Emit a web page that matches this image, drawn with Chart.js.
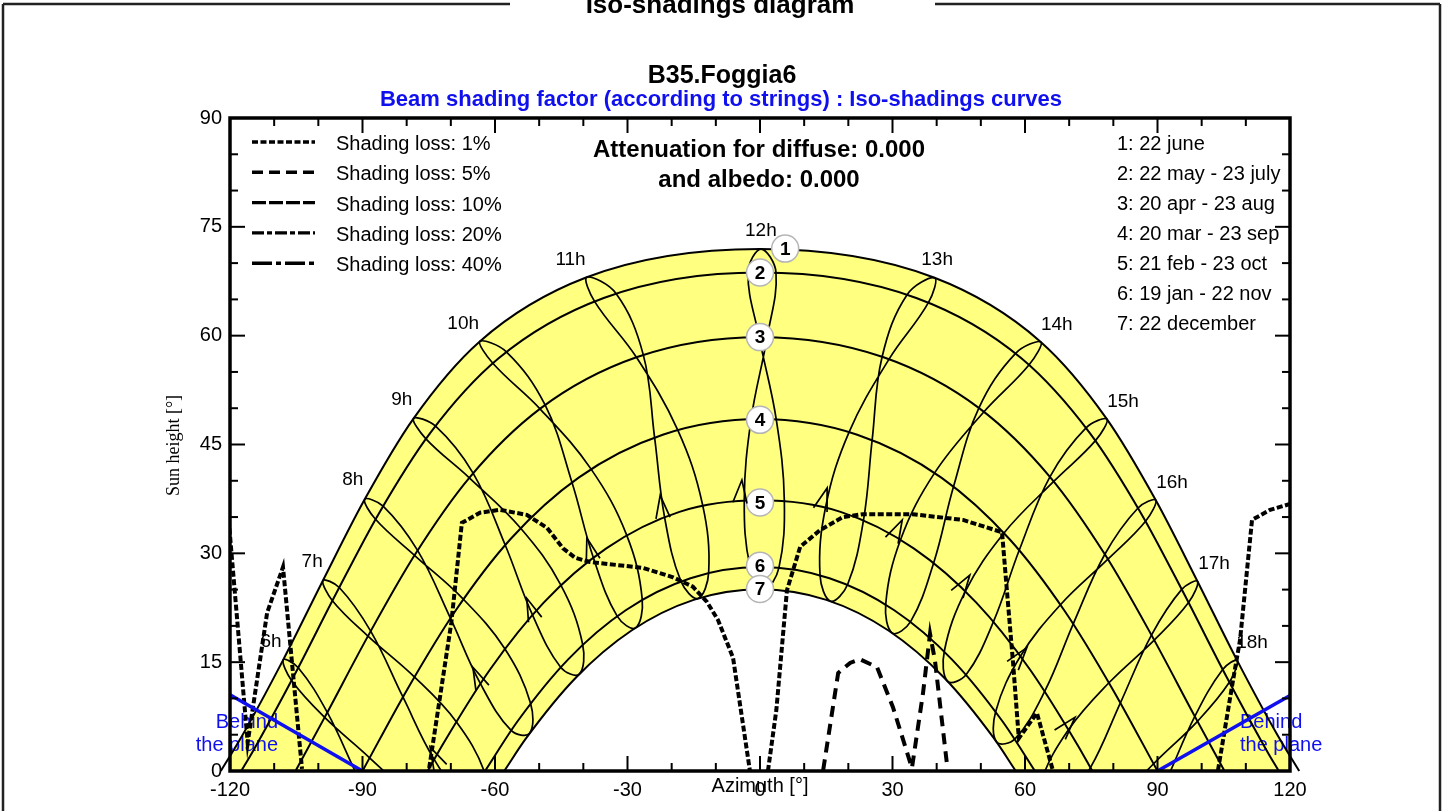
<!DOCTYPE html>
<html>
<head>
<meta charset="utf-8">
<script src="https://cdn.jsdelivr.net/npm/chart.js@4.4.0/dist/chart.umd.min.js"></script>
<style>html,body{margin:0;padding:0;background:#fff;}canvas{display:block;}</style>
</head>
<body>
<canvas id="c" width="1448" height="811"></canvas>
<script>
// ---------------- DATA ----------------
const xTickLabels = [-120, -90, -60, -30, 0, 30, 60, 90, 120];
const yTickLabels = [0, 15, 30, 45, 60, 75, 90];

const dateNames = ['1: 22 june', '2: 22 may - 23 july', '3: 20 apr - 23 aug', '4: 20 mar - 23 sep',
  '5: 21 feb - 23 oct', '6: 19 jan - 22 nov', '7: 22 december'];
const lossNames = ['Shading loss: 1%', 'Shading loss: 5%', 'Shading loss: 10%', 'Shading loss: 20%', 'Shading loss: 40%'];

// sun paths (azimuth, height)
const path1Az = [-122.08, -117.19, -107.99, -99.01, -89.56, -78.50, -63.51, -39.38, 0, 39.38, 63.51, 78.50, 89.56, 99.01, 107.99, 117.19, 122.08];
const path1H  = [0, 4.92, 15.28, 26.19, 37.38, 48.54, 59.17, 68.01, 71.94, 68.01, 59.17, 48.54, 37.38, 26.19, 15.28, 4.92, 0];
const path2Az = [-117.46, -114.84, -105.41, -96.15, -86.32, -74.73, -59.18, -35.38, 0, 35.38, 59.18, 74.73, 86.32, 96.15, 105.41, 114.84, 117.46];
const path2H  = [0, 2.69, 13.23, 24.25, 35.47, 46.54, 56.88, 65.19, 68.70, 65.19, 56.88, 46.54, 35.47, 24.25, 13.23, 2.69, 0];
const path3Az = [-105.17, -98.51, -88.70, -78.15, -65.73, -49.69, -27.82, 0, 27.82, 49.69, 65.73, 78.15, 88.70, 98.51, 105.17];
const path3H  = [0, 7.46, 18.66, 29.80, 40.48, 49.98, 57.06, 59.79, 57.06, 49.98, 40.48, 29.80, 18.66, 7.46, 0];
const path4Az = [-90, -79.93, -69.06, -56.47, -41.06, -22.02, 0, 22.02, 41.06, 56.47, 69.06, 79.93, 90];
const path4H  = [0, 11.18, 21.99, 31.98, 40.44, 46.34, 48.50, 46.34, 40.44, 31.98, 21.99, 11.18, 0];
const path5Az = [-75.24, -71.83, -61.16, -49.03, -34.80, -18.24, 0, 18.24, 34.80, 49.03, 61.16, 71.83, 75.24];
const path5H  = [0, 3.66, 13.96, 23.17, 30.68, 35.71, 37.30, 35.71, 30.68, 23.17, 13.96, 3.66, 0];
const path6Az = [-62.26, -54.85, -43.43, -30.40, -15.74, 0, 15.74, 30.40, 43.43, 54.85, 62.26];
const path6H  = [0, 6.89, 15.39, 22.15, 26.56, 28.10, 26.56, 22.15, 15.39, 6.89, 0];
const path7Az = [-57.92, -52.86, -41.71, -29.09, -15.02, 0, 15.02, 29.09, 41.71, 52.86, 57.92];
const path7H  = [0, 4.59, 12.85, 19.36, 23.59, 25.06, 23.59, 19.36, 12.85, 4.59, 0];

// hour loops (analemmas), order: dec, jan, feb, mar, apr, may, jun, jul, aug, sep, oct, nov
const loop06 = [[-71.41,-14.57],[-75.73,-14.87],[-83.59,-9.39],[-90.88,-1.00],[-97.97,8.07],[-104.55,14.24],[-107.95,15.33],[-106.06,12.47],[-98.57,7.39],[-88.39,1.82],[-78.83,-3.96],[-71.96,-10.44]];
const loop07 = [[-62.18,-4.25],[-66.38,-4.25],[-73.78,1.61],[-80.85,10.20],[-88.15,19.28],[-95.27,25.29],[-98.96,26.25],[-96.81,23.47],[-88.77,18.59],[-78.26,12.97],[-68.81,6.83],[-62.41,-0.08]];
const loop08 = [[-52.16,5.19],[-56.35,5.60],[-63.33,12.07],[-70.09,21.06],[-77.53,30.41],[-85.34,36.52],[-89.51,37.44],[-87.05,34.69],[-78.23,29.73],[-67.19,23.69],[-57.81,16.88],[-51.97,9.36]];
const loop09 = [[-40.92,13.35],[-45.14,14.31],[-51.54,21.54],[-57.69,31.15],[-64.96,41.05],[-73.51,47.55],[-78.44,48.60],[-75.64,45.78],[-65.82,40.41],[-54.23,33.50],[-45.15,25.69],[-40.16,17.47]];
const loop10 = [[-28.20,19.72],[-32.34,21.35],[-37.76,29.45],[-42.58,39.79],[-48.66,50.45],[-57.43,57.78],[-63.42,59.22],[-60.49,56.20],[-49.81,49.92],[-38.28,41.64],[-30.23,32.58],[-26.67,23.68]];
const loop11 = [[-14.04,23.78],[-17.89,26.13],[-21.62,35.03],[-23.87,45.97],[-26.42,57.35],[-32.60,65.80],[-39.22,68.05],[-37.46,64.73],[-27.99,57.03],[-18.64,47.02],[-13.02,36.75],[-11.62,27.38]];
const loop12 = [[1.01,25.06],[-2.23,28.10],[-3.56,37.40],[-2.01,48.50],[1.62,59.79],[3.62,68.70],[0.22,71.94],[-2.71,68.70],[-0.19,59.79],[3.67,48.50],[5.51,37.30],[4.28,28.00]];
const loop13 = [[16.00,23.40],[13.59,26.99],[14.86,36.39],[20.17,46.71],[29.22,56.77],[38.16,64.58],[39.54,67.97],[33.30,65.65],[27.65,57.09],[25.40,45.66],[23.46,34.67],[19.86,25.74]];
const loop14 = [[29.98,19.00],[28.46,22.95],[31.84,31.91],[39.54,41.09],[50.72,49.51],[60.93,55.98],[63.60,59.12],[57.87,57.56],[49.57,50.04],[43.84,39.24],[39.37,28.78],[34.13,20.62]];
const loop15 = [[42.50,12.35],[41.72,16.47],[46.52,24.80],[55.25,32.81],[66.50,39.91],[75.95,45.53],[78.56,48.49],[73.82,47.30],[65.64,40.55],[58.71,30.46],[52.91,20.65],[46.70,13.31]];
const loop16 = [[53.56,3.99],[53.35,8.18],[58.99,15.85],[68.03,22.92],[78.77,29.19],[87.30,34.42],[89.61,37.32],[85.59,36.25],[78.08,29.87],[70.93,20.29],[64.51,11.04],[57.73,4.42]];
const loop17 = [[63.44,-5.59],[63.66,-1.39],[69.88,5.71],[79.01,12.16],[89.25,18.04],[97.03,23.21],[99.06,26.13],[95.49,25.03],[88.63,18.73],[81.60,9.39],[74.85,0.49],[67.63,-5.56]];
const loop18 = [[72.61,-15.99],[73.15,-11.83],[79.85,-5.13],[89.12,1.00],[99.05,6.85],[106.27,12.22],[108.03,15.23],[104.76,13.99],[98.45,7.53],[91.61,-1.82],[84.61,-10.56],[76.92,-16.26]];

const hourNames  = ['6h','7h','8h','9h','10h','11h','12h','13h','14h','15h','16h','17h','18h'];
const hourLabelAz = [-110.7, -101.4, -92.2, -81.1, -67.2, -42.9, 0.2, 40.1, 67.2, 82.2, 93.3, 102.8, 111.4];
const hourLabelH  = [17.8, 28.8, 40.1, 51.1, 61.7, 70.4, 74.4, 70.4, 61.5, 50.9, 39.7, 28.5, 17.7];

// direction arrows on hour loops (7h .. 17h)
const arrowAz = [-74.7, -65.0, -52.8, -39.2, -22.6, -4.1, 15.2, 32.2, 47.5, 60.4, 71.3];
const arrowH  = [3.3, 14.3, 23.8, 32.1, 38.0, 40.1, 39.0, 34.6, 27.0, 17.0, 7.4];

// numbered date markers
const markerNums = ['1','2','3','4','5','6','7'];
const markerAz = [5.7, 0, 0, 0, 0, 0, 0];
const markerH  = [72.0, 68.7, 59.8, 48.4, 37.0, 28.3, 25.1];

// iso-shading curves
const loss1West   = [[-120.3,34.6],[-116.0,3.9],[-111.6,21.8],[-108.0,28.1],[-103.7,0.3]];
const loss1Middle = [[-74.9,0.4],[-69.9,20.4],[-67.5,34.2],[-63.4,35.6],[-58.9,36.0],[-52.8,35.3],[-48.2,33.5],[-44.6,30.7],[-41.9,29.4],[-38.5,28.8],[-26.5,28.0],[-19.7,26.7],[-15.2,25.4],[-12.0,23.3],[-9.5,20.8],[-6.1,15.6],[-2.3,0.1]];
const loss1East   = [[1.8,0],[3.7,8.4],[6.1,24.9],[9.1,30.9],[13.6,33.2],[18.8,35.0],[23.3,35.4],[34.6,35.4],[46.0,34.6],[54.8,32.9],[55.9,24.9],[57.3,14.9],[58.6,4.5],[62.7,8.0],[66.3,0.1]];
const loss1Edge   = [[103.7,0.1],[107.1,12.5],[108.7,18.1],[111.4,34.6],[115.5,36.0],[120,36.8]];
const loss5       = [[14.3,0.1],[17.7,13.5],[20.4,14.9],[22.6,15.4],[26.5,14.3],[30.1,8.8],[34.4,0.4],[36.9,10.7],[38.5,18.9],[39.6,15.3],[42.3,1.1]];

// "behind the plane" limits
const behindLeft  = [[-120,10.5],[-90,0]];
const behindRight = [[90,0],[120,10.4]];

// ---------------- CHART ----------------
const FONT = "'Liberation Sans', Arial, Helvetica, sans-serif";
Chart.defaults.font.family = FONT;
const YELLOW = '#ffff80';
const BLUE = '#1010ee';

const zip = (az, h) => az.map((a, i) => ({x: a, y: h[i]}));
const pts = arr => arr.map(p => ({x: p[0], y: p[1]}));

const datasets = [];
datasets.push({id: 'yellowFill', data: zip(path1Az, path1H), showLine: true, pointRadius: 0, borderWidth: 0,
  fill: 'origin', backgroundColor: YELLOW, cubicInterpolationMode: 'monotone', order: 30, clip: false});
datasets.push({id: 'whiteFill', data: zip(path7Az, path7H), showLine: true, pointRadius: 0, borderWidth: 0,
  fill: 'origin', backgroundColor: '#ffffff', cubicInterpolationMode: 'monotone', order: 29});

const paths = [[path1Az, path1H], [path2Az, path2H], [path3Az, path3H], [path4Az, path4H], [path5Az, path5H], [path6Az, path6H], [path7Az, path7H]];
paths.forEach((p, i) => {
  const d = {data: zip(p[0], p[1]), showLine: true, pointRadius: 0, borderColor: '#000', borderWidth: 2,
    fill: false, cubicInterpolationMode: 'monotone', order: 10};
  if (i === 0) d.clip = false;
  datasets.push(d);
});

const loops = [loop06, loop07, loop08, loop09, loop10, loop11, loop12, loop13, loop14, loop15, loop16, loop17, loop18];
loops.forEach(l => datasets.push({data: pts(l), showLine: true, pointRadius: 0, borderColor: '#000', borderWidth: 1.7,
  fill: false, tension: 0.38, isLoop: true, order: 11}));

[loss1West, loss1Middle, loss1East, loss1Edge].forEach(l => datasets.push({data: pts(l), showLine: true, pointRadius: 0,
  borderColor: '#000', borderWidth: 4, borderDash: [6, 2.5], fill: false, tension: 0, order: 5}));
datasets.push({data: pts(loss5), showLine: true, pointRadius: 0, borderColor: '#000', borderWidth: 4,
  borderDash: [11, 7], fill: false, tension: 0, order: 5});

[behindLeft, behindRight].forEach(l => datasets.push({data: pts(l), showLine: true, pointRadius: 0,
  borderColor: BLUE, borderWidth: 3.5, fill: false, order: 4}));

datasets.push({id: 'markers', data: zip(markerAz, markerH), showLine: false, pointRadius: 13.5,
  pointBackgroundColor: '#ffffff', pointBorderColor: '#b5b5b5', pointBorderWidth: 1.5, order: 0, clip: false});

const arrowLoops = [loop07, loop08, loop09, loop10, loop11, loop12, loop13, loop14, loop15, loop16, loop17];
const legendDashes = [[6, 2.5], [11, 6], [14, 3], [12, 3, 5, 3], [20, 4, 5, 4]];

function seg(ctx, x1, y1, x2, y2) { ctx.beginPath(); ctx.moveTo(x1, y1); ctx.lineTo(x2, y2); ctx.stroke(); }

function drawTexts(chart) {
  const {ctx, chartArea: a, scales: {x, y}} = chart;
  ctx.save();
  ctx.fillStyle = '#000';
  ctx.font = `19px ${FONT}`; ctx.textAlign = 'center'; ctx.textBaseline = 'middle';
  hourNames.forEach((n, i) => ctx.fillText(n, x.getPixelForValue(hourLabelAz[i]), y.getPixelForValue(hourLabelH[i])));

  ctx.fillStyle = BLUE; ctx.font = `20px ${FONT}`; ctx.textBaseline = 'alphabetic';
  ctx.textAlign = 'right';
  ctx.fillText('Behind', a.left + 48, a.bottom - 43); ctx.fillText('the plane', a.left + 48, a.bottom - 20);
  ctx.textAlign = 'left';
  ctx.fillText('Behind', a.right - 50, a.bottom - 43); ctx.fillText('the plane', a.right - 50, a.bottom - 20);

  // loss legend
  ctx.fillStyle = '#000'; ctx.textAlign = 'left'; ctx.font = `20px ${FONT}`;
  lossNames.forEach((n, i) => {
    const base = a.top + 32 + i * 30.3;
    ctx.fillText(n, a.left + 106, base);
    ctx.save(); ctx.lineWidth = 3.4; ctx.strokeStyle = '#000'; ctx.setLineDash(legendDashes[i]);
    seg(ctx, a.left + 22, base - 8, a.left + 85, base - 8); ctx.restore();
  });
  // date legend
  dateNames.forEach((n, i) => ctx.fillText(n, a.left + 887, a.top + 31.5 + i * 30.1));
  // attenuation
  ctx.font = `bold 24px ${FONT}`; ctx.textAlign = 'center';
  const cx = x.getPixelForValue(0) - 1;
  ctx.fillText('Attenuation for diffuse: 0.000', cx, a.top + 39);
  ctx.fillText('and albedo: 0.000', cx, a.top + 69);
  ctx.restore();
}

function drawArrows(chart) {
  const {ctx, scales: {x, y}} = chart;
  ctx.save(); ctx.strokeStyle = '#000'; ctx.lineWidth = 1.7;
  arrowAz.forEach((az, i) => {
    const l = arrowLoops[i];
    const dx = x.getPixelForValue(l[3][0]) - x.getPixelForValue(l[2][0]);
    const dy = y.getPixelForValue(l[3][1]) - y.getPixelForValue(l[2][1]);
    const ang = Math.atan2(dy, dx);
    const tx = x.getPixelForValue(az), ty = y.getPixelForValue(arrowH[i]);
    const L = 24, s = 0.3;
    ctx.beginPath();
    ctx.moveTo(tx + L * Math.cos(ang + Math.PI - s), ty + L * Math.sin(ang + Math.PI - s));
    ctx.lineTo(tx, ty);
    ctx.lineTo(tx + L * Math.cos(ang + Math.PI + s), ty + L * Math.sin(ang + Math.PI + s));
    ctx.stroke();
  });
  ctx.restore();
}

function drawFrame(chart) {
  const {ctx, chartArea: a, scales: {x, y}} = chart;
  ctx.save(); ctx.strokeStyle = '#000'; ctx.lineWidth = 2;
  for (let v = -120; v <= 120; v += 10) {
    const px = x.getPixelForValue(v); const L = v % 30 === 0 ? 15 : 8;
    seg(ctx, px, a.bottom, px, a.bottom - L); seg(ctx, px, a.top, px, a.top + L);
  }
  for (let v = 0; v <= 90; v += 5) {
    const py = y.getPixelForValue(v); const L = v % 15 === 0 ? 15 : 8;
    seg(ctx, a.left, py, a.left + L, py); seg(ctx, a.right, py, a.right - L, py);
  }
  ctx.lineWidth = 3.5;
  ctx.strokeRect(a.left, a.top, a.right - a.left, a.bottom - a.top);
  // marker numbers
  ctx.fillStyle = '#000'; ctx.font = `bold 19px ${FONT}`; ctx.textAlign = 'center'; ctx.textBaseline = 'middle';
  markerNums.forEach((n, i) => ctx.fillText(n, x.getPixelForValue(markerAz[i]), y.getPixelForValue(markerH[i]) + 1));
  ctx.restore();
}

function drawOuter(chart) {
  const {ctx, chartArea: a, scales: {x}} = chart;
  ctx.save();
  ctx.strokeStyle = '#222'; ctx.lineWidth = 2.5;
  seg(ctx, 3, 4, 510, 4); seg(ctx, 935, 4, 1440, 4); seg(ctx, 3, 4, 3, 811); seg(ctx, 1440, 4, 1440, 811);
  ctx.fillStyle = '#000'; ctx.textAlign = 'center'; ctx.textBaseline = 'alphabetic';
  ctx.font = `bold 26px ${FONT}`; ctx.fillText('Iso-shadings diagram', 720, 13);
  ctx.font = `bold 25px ${FONT}`; ctx.fillText('B35.Foggia6', 722, 83);
  ctx.fillStyle = BLUE; ctx.font = `bold 22px ${FONT}`;
  ctx.fillText('Beam shading factor (according to strings) : Iso-shadings curves', 721, 106);
  ctx.fillStyle = '#000'; ctx.font = `20px ${FONT}`; ctx.textBaseline = 'middle';
  ctx.fillText('Azimuth [°]', x.getPixelForValue(0), a.bottom + 15);
  ctx.save(); ctx.translate(a.left - 56, (a.top + a.bottom) / 2 + 1); ctx.rotate(-Math.PI / 2);
  ctx.font = `18px 'Liberation Serif', 'Times New Roman', serif`; ctx.fillText('Sun height [°]', 0, 0);
  ctx.restore();
  ctx.restore();
}

const decor = {
  id: 'decor',
  afterDatasetUpdate(chart, args) {
    const ds = chart.data.datasets[args.index];
    if (ds.isLoop && args.meta.dataset) { args.meta.dataset._loop = true; args.meta.dataset._fullLoop = true; }
  },
  afterDatasetDraw(chart, args) {
    if (chart.data.datasets[args.index].id === 'whiteFill') drawTexts(chart);
  },
  afterDatasetsDraw(chart) { drawArrows(chart); drawFrame(chart); },
  afterDraw(chart) { drawOuter(chart); }
};

new Chart(document.getElementById('c'), {
  type: 'scatter',
  data: {datasets},
  options: {
    responsive: false, animation: false, devicePixelRatio: 1, events: [],
    layout: {padding: {left: 190, right: 158, top: 118, bottom: 10}},
    elements: {line: {capBezierPoints: false}},
    plugins: {legend: {display: false}, tooltip: {enabled: false}},
    scales: {
      x: {type: 'linear', min: -120, max: 120,
        afterBuildTicks: s => { s.ticks = xTickLabels.map(v => ({value: v})); },
        afterFit: s => { s.height = 30; },
        ticks: {autoSkip: false, maxRotation: 0, minRotation: 0, font: {size: 20}, color: '#000', padding: 7},
        grid: {display: false, drawTicks: false}, border: {display: false}},
      y: {type: 'linear', min: 0, max: 90,
        afterBuildTicks: s => { s.ticks = yTickLabels.map(v => ({value: v})); },
        afterFit: s => { s.width = 40; },
        ticks: {font: {size: 20}, color: '#000', padding: 8},
        grid: {display: false, drawTicks: false}, border: {display: false}}
    }
  },
  plugins: [decor]
});
</script>
</body>
</html>
